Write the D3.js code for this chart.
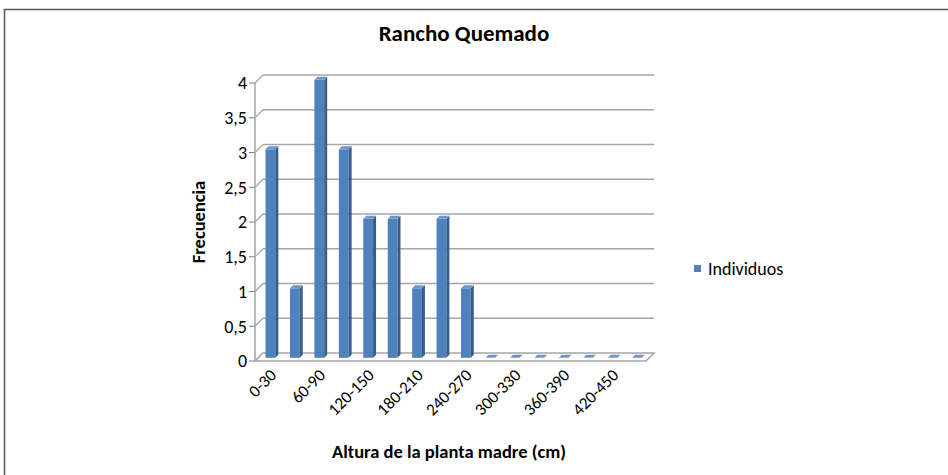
<!DOCTYPE html>
<html>
<head>
<meta charset="utf-8">
<script src="https://cdn.jsdelivr.net/npm/d3@7"></script>
<style>
  body { margin: 0; background: #fff; }
  svg { display: block; }
  text { font-family: Carlito, "Liberation Sans Narrow", "Open Sans", sans-serif; fill: #000; }
</style>
</head>
<body>
<svg id="chart"></svg>
<script>
var WIDTH = 948;
var HEIGHT = 475;

// data
var categories = ["0-30", "30-60", "60-90", "90-120", "120-150", "150-180", "180-210", "210-240",
  "240-270", "270-300", "300-330", "330-360", "360-390", "390-420", "420-450", "450-480"];
var individuos = [3, 1, 4, 3, 2, 2, 1, 2, 1, 0, 0, 0, 0, 0, 0, 0];
var yTicks = [0, 0.5, 1, 1.5, 2, 2.5, 3, 3.5, 4];
var seriesName = "Individuos";

// depth of the 3d box (back wall -> front edge)
var DX = -8, DY = 8;
var BAR_SHIFT = 0.6; // bars sit a bit towards the front

var svg = d3.select("#chart").attr("width", WIDTH).attr("height", HEIGHT);

// frame
svg.append("path")
  .attr("d", "M4.5," + (HEIGHT + 2) + " V9.5 H" + (WIDTH + 2))
  .attr("fill", "none").attr("stroke", "#555").attr("stroke-width", 1.5);

// scales on the back wall
var x = d3.scaleBand().domain(categories).range([263, 654]).paddingInner(0.6).paddingOuter(0.3);
var y = d3.scaleLinear().domain([0, 4]).range([353, 75]);

var grid = svg.append("g");

// back wall gridlines + side wall diagonals
yTicks.forEach(function (t) {
  if (t > 0) {
    grid.append("line")
      .attr("x1", 263).attr("x2", 654)
      .attr("y1", y(t)).attr("y2", y(t))
      .attr("stroke", "#a6a6a6").attr("stroke-width", 1.5);
  }
  grid.append("line")
    .attr("x1", 263 + DX).attr("y1", y(t) + DY)
    .attr("x2", 263).attr("y2", y(t))
    .attr("stroke", "#a6a6a6").attr("stroke-width", 1.2);
  // tick marks
  grid.append("line")
    .attr("x1", 263 + DX - 6).attr("x2", 263 + DX)
    .attr("y1", y(t) + DY).attr("y2", y(t) + DY)
    .attr("stroke", "#7f7f7f").attr("stroke-width", 1);
});

// left axis line
grid.append("line")
  .attr("x1", 263 + DX).attr("x2", 263 + DX)
  .attr("y1", y(4) + DY).attr("y2", y(0) + DY)
  .attr("stroke", "#a6a6a6").attr("stroke-width", 1.5);

// floor
var floor = [[263, y(0)], [654, y(0)], [654 + DX, y(0) + DY], [263 + DX, y(0) + DY]];
grid.append("path")
  .attr("d", "M" + floor.join("L") + "Z")
  .attr("fill", "#fff").attr("stroke", "#a6a6a6").attr("stroke-width", 1.5);

// y tick labels
svg.append("g").selectAll("text")
  .data(yTicks)
  .enter()
  .append("text")
  .attr("x", 263 + DX - 8)
  .attr("y", function (d) { return y(d) + DY; })
  .attr("dy", "0.35em")
  .attr("text-anchor", "end")
  .style("font-size", "18px")
  .text(function (d) { return String(d).replace(".", ","); });

// bars (simple 3d columns)
var bw = x.bandwidth();
var side = 3;
var bars = svg.append("g").selectAll("g")
  .data(individuos)
  .enter()
  .append("g")
  .attr("transform", function (d, i) {
    return "translate(" + (x(categories[i]) + DX * BAR_SHIFT) + "," + (DY * BAR_SHIFT) + ")";
  });

bars.append("rect")
  .attr("x", 0)
  .attr("y", function (d) { return y(d); })
  .attr("width", bw)
  .attr("height", function (d) { return y(0) - y(d); })
  .attr("fill", "#4f81bd");

bars.append("path")
  .attr("d", function (d) {
    var t = y(d), b = y(0);
    return "M" + bw + "," + t + "L" + (bw + side) + "," + (t - side) +
      "L" + (bw + side) + "," + (b - side) + "L" + bw + "," + b + "Z";
  })
  .attr("fill", "#385d8a");

bars.append("path")
  .attr("d", function (d) {
    var t = y(d);
    return "M0," + t + "L" + side + "," + (t - side) + "L" + (bw + side) + "," + (t - side) +
      "L" + bw + "," + t + "Z";
  })
  .attr("fill", "#6f96c9");

// x tick labels (every other category)
svg.append("g").selectAll("text")
  .data(categories.filter(function (d, i) { return i % 2 === 0; }))
  .enter()
  .append("text")
  .attr("transform", function (d) {
    var cx = x(d) + bw / 2 + DX + 6;
    return "translate(" + cx + "," + (y(0) + DY + 11) + ") rotate(-45)";
  })
  .attr("text-anchor", "end")
  .attr("dy", "0.35em")
  .style("font-size", "17px")
  .text(function (d) { return d; });

// titles
svg.append("text")
  .attr("x", 464).attr("y", 41)
  .attr("text-anchor", "middle")
  .style("font-size", "23px")
  .style("font-weight", "bold")
  .text("Rancho Quemado");

svg.append("text")
  .attr("x", 449).attr("y", 458)
  .attr("text-anchor", "middle")
  .style("font-size", "18.5px")
  .style("font-weight", "bold")
  .text("Altura de la planta madre (cm)");

svg.append("text")
  .attr("transform", "translate(205,222) rotate(-90)")
  .attr("text-anchor", "middle")
  .style("font-size", "18.5px")
  .style("font-weight", "bold")
  .text("Frecuencia");

// legend
var legend = svg.append("g").attr("transform", "translate(694,265)");
legend.append("rect").attr("width", 7).attr("height", 7).attr("fill", "#4f81bd");
legend.append("text").attr("x", 14).attr("y", 4).attr("dy", "0.35em")
  .style("font-size", "18px").text(seriesName);
</script>
</body>
</html>
